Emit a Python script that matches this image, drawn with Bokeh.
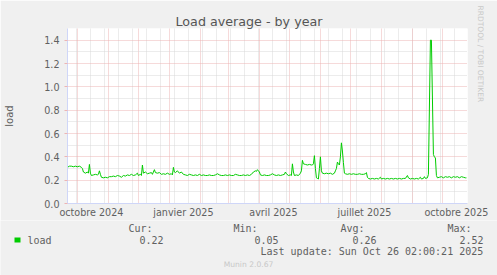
import pandas as pd
from bokeh.plotting import figure
from bokeh.layouts import column
from bokeh.models import (Range1d, FixedTicker, PrintfTickFormatter, Label,
                          BoxAnnotation, Title)
from bokeh.embed import file_html
from bokeh.resources import INLINE

# ---------------- data ----------------
dates = [
    "2024-09-21", "2024-09-23", "2024-09-25", "2024-09-27", "2024-09-29",
    "2024-10-01", "2024-10-03", "2024-10-05", "2024-10-06", "2024-10-07", "2024-10-09",
    "2024-10-11", "2024-10-12", "2024-10-13", "2024-10-14", "2024-10-15", "2024-10-17",
    "2024-10-19", "2024-10-21", "2024-10-22", "2024-10-23", "2024-10-24", "2024-10-25",
    "2024-10-27", "2024-10-29", "2024-10-31",
    "2024-11-02", "2024-11-04", "2024-11-06", "2024-11-08", "2024-11-10", "2024-11-12",
    "2024-11-14", "2024-11-16", "2024-11-18", "2024-11-20", "2024-11-22", "2024-11-24",
    "2024-11-26", "2024-11-28", "2024-11-30",
    "2024-12-01", "2024-12-03", "2024-12-04", "2024-12-05", "2024-12-06", "2024-12-08",
    "2024-12-10", "2024-12-12", "2024-12-14", "2024-12-15", "2024-12-17", "2024-12-18",
    "2024-12-20", "2024-12-22", "2024-12-24", "2024-12-26", "2024-12-28", "2024-12-30",
    "2025-01-01", "2025-01-03", "2025-01-04", "2025-01-05", "2025-01-06", "2025-01-07",
    "2025-01-09", "2025-01-11", "2025-01-13", "2025-01-15", "2025-01-17", "2025-01-19",
    "2025-01-21", "2025-01-23", "2025-01-25", "2025-01-27", "2025-01-29", "2025-01-31",
    "2025-02-02", "2025-02-04", "2025-02-06", "2025-02-08", "2025-02-10", "2025-02-12",
    "2025-02-14", "2025-02-16", "2025-02-18", "2025-02-20", "2025-02-22", "2025-02-24",
    "2025-02-26", "2025-02-28",
    "2025-03-02", "2025-03-04", "2025-03-06", "2025-03-08", "2025-03-10", "2025-03-12",
    "2025-03-14", "2025-03-16", "2025-03-18", "2025-03-20", "2025-03-22", "2025-03-24",
    "2025-03-26", "2025-03-28", "2025-03-29", "2025-03-30", "2025-03-31",
    "2025-04-01", "2025-04-02", "2025-04-04", "2025-04-06", "2025-04-08", "2025-04-10",
    "2025-04-12", "2025-04-14", "2025-04-16", "2025-04-18", "2025-04-20", "2025-04-22",
    "2025-04-24", "2025-04-26", "2025-04-27", "2025-04-28", "2025-04-30",
    "2025-05-02", "2025-05-03", "2025-05-04", "2025-05-05", "2025-05-06", "2025-05-08",
    "2025-05-10", "2025-05-12", "2025-05-13", "2025-05-14", "2025-05-15", "2025-05-17",
    "2025-05-19", "2025-05-21", "2025-05-23", "2025-05-24", "2025-05-25", "2025-05-26",
    "2025-05-27", "2025-05-28", "2025-05-29", "2025-05-30", "2025-05-31",
    "2025-06-01", "2025-06-02", "2025-06-03", "2025-06-05", "2025-06-07", "2025-06-09",
    "2025-06-11", "2025-06-13", "2025-06-15", "2025-06-16", "2025-06-17", "2025-06-18",
    "2025-06-19", "2025-06-20", "2025-06-21", "2025-06-22", "2025-06-23", "2025-06-24",
    "2025-06-25", "2025-06-26", "2025-06-28", "2025-06-30",
    "2025-07-02", "2025-07-04", "2025-07-06", "2025-07-08", "2025-07-10", "2025-07-12",
    "2025-07-14", "2025-07-16", "2025-07-17", "2025-07-18", "2025-07-19", "2025-07-21",
    "2025-07-23", "2025-07-25", "2025-07-27", "2025-07-29", "2025-07-31",
    "2025-08-01", "2025-08-03", "2025-08-05", "2025-08-07", "2025-08-09", "2025-08-11",
    "2025-08-13", "2025-08-15", "2025-08-17", "2025-08-19", "2025-08-21", "2025-08-23",
    "2025-08-25", "2025-08-27", "2025-08-28", "2025-08-30",
    "2025-09-01", "2025-09-03", "2025-09-05", "2025-09-07", "2025-09-09", "2025-09-10",
    "2025-09-12", "2025-09-13", "2025-09-14", "2025-09-16", "2025-09-17", "2025-09-19",
    "2025-09-20", "2025-09-22", "2025-09-23", "2025-09-24", "2025-09-25", "2025-09-26",
    "2025-09-28", "2025-09-30",
    "2025-10-02", "2025-10-04", "2025-10-06", "2025-10-08", "2025-10-10", "2025-10-12",
    "2025-10-14", "2025-10-16", "2025-10-18", "2025-10-20", "2025-10-22", "2025-10-24",
    "2025-10-25",
]
load = [
    0.31, 0.32, 0.32, 0.315, 0.32,
    0.315, 0.32, 0.31, 0.30, 0.27, 0.26,
    0.27, 0.26, 0.335, 0.26, 0.24, 0.245,
    0.25, 0.245, 0.25, 0.28, 0.25, 0.225,
    0.22, 0.225, 0.22,
    0.23, 0.23, 0.235, 0.23, 0.24, 0.235,
    0.225, 0.24, 0.235, 0.245, 0.24, 0.25,
    0.24, 0.245, 0.26,
    0.24, 0.25, 0.24, 0.33, 0.26, 0.27,
    0.255, 0.26, 0.265, 0.25, 0.29, 0.265,
    0.26, 0.265, 0.25, 0.255, 0.25, 0.26,
    0.25, 0.255, 0.245, 0.31, 0.27, 0.265,
    0.28, 0.26, 0.27, 0.25, 0.245, 0.24,
    0.25, 0.245, 0.24, 0.245, 0.24, 0.25,
    0.24, 0.245, 0.24, 0.24, 0.245, 0.24,
    0.24, 0.245, 0.255, 0.245, 0.24, 0.24,
    0.245, 0.24,
    0.245, 0.24, 0.24, 0.25, 0.245, 0.24,
    0.24, 0.245, 0.24, 0.245, 0.24, 0.25,
    0.27, 0.28, 0.275, 0.29, 0.28,
    0.27, 0.245, 0.24, 0.245, 0.24, 0.24,
    0.245, 0.255, 0.245, 0.24, 0.245, 0.24,
    0.245, 0.25, 0.27, 0.255, 0.24,
    0.245, 0.24, 0.34, 0.27, 0.24, 0.245,
    0.24, 0.26, 0.28, 0.37, 0.34, 0.335,
    0.33, 0.335, 0.33, 0.33, 0.34, 0.41,
    0.30, 0.22, 0.215, 0.21, 0.30,
    0.40, 0.28, 0.26, 0.255, 0.26, 0.255,
    0.26, 0.25, 0.26, 0.28, 0.30, 0.355,
    0.34, 0.33, 0.40, 0.52, 0.45, 0.35,
    0.26, 0.255, 0.25, 0.255,
    0.25, 0.255, 0.25, 0.25, 0.255, 0.25,
    0.25, 0.255, 0.265, 0.225, 0.215, 0.21,
    0.215, 0.21, 0.215, 0.21, 0.225,
    0.21, 0.215, 0.21, 0.215, 0.21, 0.215,
    0.21, 0.215, 0.21, 0.215, 0.21, 0.215,
    0.215, 0.24, 0.22, 0.21,
    0.215, 0.21, 0.215, 0.21, 0.225, 0.21,
    0.215, 0.23, 0.215, 0.22, 0.25, 1.40,
    1.40, 0.42, 0.40, 0.39, 0.24, 0.22,
    0.225, 0.23,
    0.22, 0.23, 0.225, 0.23, 0.22, 0.23,
    0.225, 0.23, 0.22, 0.23, 0.225, 0.22,
    0.22,
]

x_start, x_end = "2024-09-21 02:00", "2025-10-26 02:00"
y_max = 1.5
month_starts = ["2024-10-01", "2024-11-01", "2024-12-01", "2025-01-01", "2025-02-01",
                "2025-03-01", "2025-04-01", "2025-05-01", "2025-06-01", "2025-07-01",
                "2025-08-01", "2025-09-01", "2025-10-01"]
label_dates = ["2024-10-15", "2025-01-15", "2025-04-15", "2025-07-15", "2025-10-15"]
label_texts = ["octobre 2024", "janvier 2025", "avril 2025", "juillet 2025", "octobre 2025"]
y_major = [0.0, 0.2, 0.4, 0.6, 0.8, 1.0, 1.2, 1.4]
y_minor = [0.1, 0.3, 0.5, 0.7, 0.9, 1.1, 1.3, 1.5]

title_text = "Load average - by year"
side_text = "RRDTOOL / TOBI OETIKER"
legend_name = "load"
stat_names = ["Cur:", "Min:", "Avg:", "Max:"]
stat_values = ["0.22", "0.05", "0.26", "2.52"]
last_update = "Last update: Sun Oct 26 02:00:21 2025"
footer = "Munin 2.0.67"


def ms(d):
    return pd.Timestamp(d).timestamp() * 1000.0


FONT = "DejaVu Sans"
MONO = "DejaVu Sans Mono"
TXT = "#606060"
GRID_C = "#D8D8D8"
MGRID_C = "#EDB4B4"
AXIS_C = "#CFD6F8"
BG = "#F0F0F0"

# ---------------- main chart ----------------
p = figure(width=497, height=220, x_axis_type="datetime",
           output_backend="svg", toolbar_location=None,
           x_range=Range1d(ms(x_start), ms(x_end)), y_range=Range1d(0, y_max),
           min_border_left=67, min_border_right=30, min_border_top=28,
           min_border_bottom=17)
p.border_fill_color = BG
p.background_fill_color = "#FFFFFF"
p.outline_line_color = None

p.title.text = title_text
p.title.align = "left"
p.title.offset = 108
p.title.standoff = 0
p.title.text_font = FONT
p.title.text_font_size = "12.7px"
p.title.text_font_style = "normal"
p.title.text_color = "#555555"

p.add_layout(Title(text=side_text, align="left", standoff=17, offset=-23,
                   text_font=FONT, text_font_size="7.5px", text_font_style="normal",
                   text_color="#C8C8C8"), "right")

xa = p.xaxis[0]
xa.ticker = FixedTicker(ticks=[ms(d) for d in label_dates], minor_ticks=[])
xa.major_label_overrides = {ms(d): t for d, t in zip(label_dates, label_texts)}
xa.major_tick_line_color = None
xa.minor_tick_line_color = None
xa.major_tick_out = 0
xa.major_label_standoff = 3
xa.axis_line_color = AXIS_C
xa.major_label_text_font = FONT
xa.major_label_text_font_size = "9.6px"
xa.major_label_text_color = TXT

ya = p.yaxis[0]
ya.ticker = FixedTicker(ticks=y_major, minor_ticks=y_minor)
ya.formatter = PrintfTickFormatter(format="%.1f")
ya.axis_line_color = AXIS_C
ya.major_tick_line_color = MGRID_C
ya.major_tick_out = 3
ya.major_tick_in = 0
ya.minor_tick_line_color = None
ya.major_label_standoff = 4
ya.major_label_text_font = FONT
ya.major_label_text_font_size = "9.6px"
ya.major_label_text_color = TXT
ya.axis_label = "load"
ya.axis_label_text_font = FONT
ya.axis_label_text_font_size = "10px"
ya.axis_label_text_font_style = "normal"
ya.axis_label_text_color = TXT
ya.axis_label_standoff = 26

p.xgrid.ticker = FixedTicker(
    ticks=[ms(d) for d in month_starts],
    minor_ticks=[ms(d) for d in pd.date_range("2024-09-30", "2025-10-26", freq="14D")])
p.xgrid.grid_line_color = MGRID_C
p.xgrid.grid_line_dash = "1 1"
p.xgrid.minor_grid_line_color = GRID_C
p.xgrid.minor_grid_line_dash = "1 1"
p.ygrid.grid_line_color = MGRID_C
p.ygrid.grid_line_dash = "1 1"
p.ygrid.minor_grid_line_color = GRID_C
p.ygrid.minor_grid_line_dash = "1 1"

p.line(x=pd.to_datetime(dates), y=load, line_color="#00CC00", line_width=1)

# ---------------- legend strip ----------------
L = figure(width=497, height=55, output_backend="svg", toolbar_location=None,
           x_range=Range1d(0, 497), y_range=Range1d(0, 55),
           x_axis_location=None, y_axis_location=None, min_border=0)
L.grid.visible = False
L.outline_line_color = None
L.border_fill_color = BG
L.background_fill_color = BG

for fig in (p, L):
    if "frame_align" in fig.properties():
        fig.frame_align = False


def lab(text, x, y, font=MONO, size="10px", color=TXT, align="left"):
    L.add_layout(Label(x=x, y=y, text=text, text_font=font, text_font_size=size,
                       text_color=color, text_align=align, text_baseline="middle"))


L.add_layout(BoxAnnotation(left=14, right=20, bottom=33, top=38,
                           fill_color="#00CC00", fill_alpha=1.0, line_color=None))
lab(legend_name, 27, 35.5)
for name, val, xn, xv in zip(stat_names, stat_values,
                             [128, 233, 340, 447], [139, 254, 352, 459]):
    lab(name, xn, 47)
    lab(val, xv, 35.5)
lab(last_update, 260, 24)
lab(footer, 248, 11, font=FONT, size="7.6px", color="#C8C8C8", align="center")

layout = column(p, L, spacing=0)
open("out.html", "w").write(file_html(layout, INLINE))
